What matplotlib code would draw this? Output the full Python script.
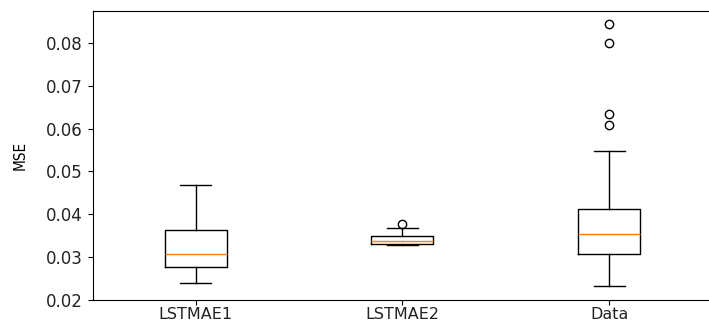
import matplotlib
matplotlib.use("Agg")
import matplotlib.pyplot as plt

labels = ["LSTMAE1", "LSTMAE2", "Data"]
whislo = [0.0240, 0.0328, 0.0233]
q1 = [0.0276, 0.0330, 0.0308]
med = [0.0307, 0.0337, 0.0355]
q3 = [0.0363, 0.0349, 0.0413]
whishi = [0.0469, 0.0367, 0.0547]
fliers = [[], [0.0378], [0.0609, 0.0634, 0.0800, 0.0844]]

stats = []
for i, lab in enumerate(labels):
    stats.append(dict(label=lab, whislo=whislo[i], q1=q1[i], med=med[i],
                      q3=q3[i], whishi=whishi[i], fliers=fliers[i]))

fig = plt.figure(figsize=(7.09, 3.21), dpi=100)
ax = fig.add_axes([92.5 / 709, 21 / 321, 620 / 709, 289 / 321])
ax.bxp(stats, showfliers=True)
ax.set_ylabel("MSE", fontsize=11, fontstretch="condensed")
ax.yaxis.set_label_coords(-0.105, 0.5)
ax.tick_params(axis="both", labelsize=12, colors="#222222")
ax.tick_params(axis="both", color="black")
ax.tick_params(axis="x", pad=1.8, labelsize=11.5)
ax.set_yticks([0.02, 0.03, 0.04, 0.05, 0.06, 0.07, 0.08])
fig.savefig("out.png", dpi=100)
